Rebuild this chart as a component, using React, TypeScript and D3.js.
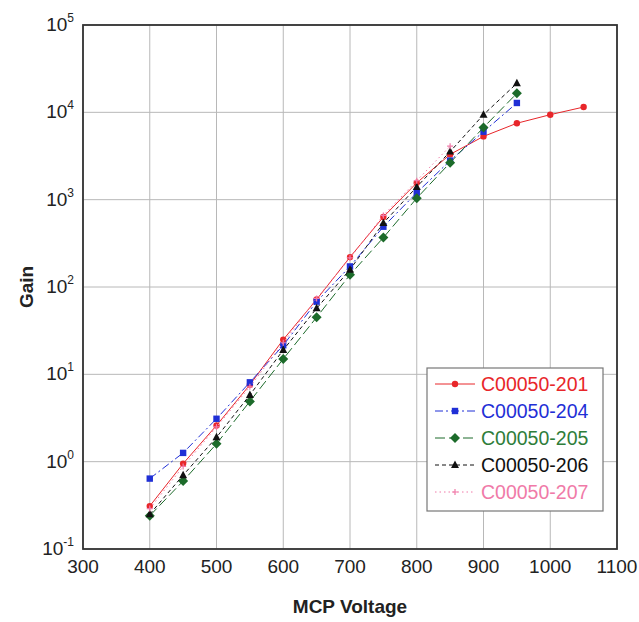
import * as d3 from 'd3'

const voltage = [400, 450, 500, 550, 600, 650, 700, 750, 800, 850, 900, 950, 1000, 1050]

const gain201 = [0.31, 0.95, 2.6, 7.6, 25, 72, 220, 635, 1560, 3300, 5300, 7500, 9400, 11500]
const gain204 = [0.64, 1.26, 3.1, 8.1, 21.5, 68, 172, 490, 1200, 2800, 6000, 12800]
const gain205 = [0.24, 0.6, 1.6, 4.9, 15, 45, 138, 368, 1040, 2650, 6700, 16500]
const gain206 = [0.25, 0.7, 1.9, 5.8, 19, 57, 158, 540, 1400, 3550, 9400, 21500]
const gain207 = [0.29, 0.88, 2.5, 7.2, 23, 74, 215, 660, 1650, 4100]

const xTicks = [300, 400, 500, 600, 700, 800, 900, 1000, 1100]
const yExps = [-1, 0, 1, 2, 3, 4, 5]

const series = [
  { name: 'C00050-201', values: gain201, color: '#e8262a', dash: '', marker: 'circle' },
  { name: 'C00050-204', values: gain204, color: '#1f2fd6', dash: '8,3,2,3', marker: 'square' },
  { name: 'C00050-205', values: gain205, color: '#1c6b2a', dash: '10,4', marker: 'diamond' },
  { name: 'C00050-206', values: gain206, color: '#111111', dash: '4,3', marker: 'triangle' },
  { name: 'C00050-207', values: gain207, color: '#f07aa8', dash: '1.5,3', marker: 'plus' },
]

const W = 639
const H = 622
const left = 83
const right = 617
const top = 25
const bottom = 549

function Marker({ type, x, y, color }: { type: string; x: number; y: number; color: string }) {
  if (type === 'circle') return <circle cx={x} cy={y} r={3.2} fill={color} />
  if (type === 'square') return <rect x={x - 3.2} y={y - 3.2} width={6.4} height={6.4} fill={color} />
  if (type === 'diamond')
    return <path d={`M${x},${y - 5}L${x + 5},${y}L${x},${y + 5}L${x - 5},${y}Z`} fill={color} />
  if (type === 'triangle')
    return <path d={`M${x},${y - 4.5}L${x + 4},${y + 3}L${x - 4},${y + 3}Z`} fill={color} />
  return (
    <path d={`M${x - 3},${y}H${x + 3}M${x},${y - 3}V${y + 3}`} stroke={color} strokeWidth={1.2} />
  )
}

export default function App() {
  const x = d3.scaleLinear().domain([300, 1100]).range([left, right])
  const y = d3.scaleLog().domain([0.1, 1e5]).range([bottom, top])
  const line = d3
    .line<[number, number]>()
    .x(d => x(d[0]))
    .y(d => y(d[1]))

  const font = '"Liberation Sans", Arial, sans-serif'
  const legX = 427
  const legY = 368
  const rowH = 27

  return (
    <svg width={W} height={H} style={{ display: 'block', position: 'absolute', left: 0, top: 0 }} fontFamily={font}>
      <rect width={W} height={H} fill="#fff" />
      {xTicks.map(t => (
        <line key={'gx' + t} x1={x(t)} x2={x(t)} y1={top} y2={bottom} stroke="#b8b8b8" strokeWidth={1} />
      ))}
      {yExps.map(e => (
        <line key={'gy' + e} x1={left} x2={right} y1={y(Math.pow(10, e))} y2={y(Math.pow(10, e))} stroke="#b8b8b8" strokeWidth={1} />
      ))}

      {series.map(s => {
        const pts = s.values.map((v, i) => [voltage[i], v] as [number, number])
        return (
          <g key={s.name}>
            <path d={line(pts) || ''} fill="none" stroke={s.color} strokeWidth={1} strokeDasharray={s.dash || undefined} />
            {pts.map((p, i) => (
              <Marker key={i} type={s.marker} x={x(p[0])} y={y(p[1])} color={s.color} />
            ))}
          </g>
        )
      })}

      <rect x={left} y={top} width={right - left} height={bottom - top} fill="none" stroke="#333" strokeWidth={1.8} />

      {xTicks.map(t => (
        <text key={'tx' + t} x={x(t)} y={573} textAnchor="middle" fontSize={19} fill="#222">
          {t}
        </text>
      ))}
      {yExps.map(e => (
        <text key={'ty' + e} x={left - 9} y={y(Math.pow(10, e)) + 6} textAnchor="end" fontSize={19} fill="#222">
          10
          <tspan dy={-9} fontSize={12}>
            {e}
          </tspan>
        </text>
      ))}

      <text x={(left + right) / 2} y={613} textAnchor="middle" fontSize={19} fontWeight="bold" fill="#222">
        MCP Voltage
      </text>
      <text
        transform={`translate(33,${(top + bottom) / 2}) rotate(-90)`}
        textAnchor="middle"
        fontSize={19}
        fontWeight="bold"
        fill="#222"
      >
        Gain
      </text>

      <rect x={legX} y={legY} width={176} height={143} fill="#fff" stroke="#777" strokeWidth={1.2} />
      {series.map((s, i) => {
        const cy = legY + 16 + i * rowH
        return (
          <g key={'leg' + s.name}>
            <line x1={legX + 8} x2={legX + 48} y1={cy} y2={cy} stroke={s.color} strokeWidth={1} strokeDasharray={s.dash || undefined} />
            <Marker type={s.marker} x={legX + 28} y={cy} color={s.color} />
            <text x={legX + 54} y={cy + 7} fontSize={19.5} fill={s.color === '#1c6b2a' ? '#2f7d3a' : s.color}>
              {s.name}
            </text>
          </g>
        )
      })}
    </svg>
  )
}
